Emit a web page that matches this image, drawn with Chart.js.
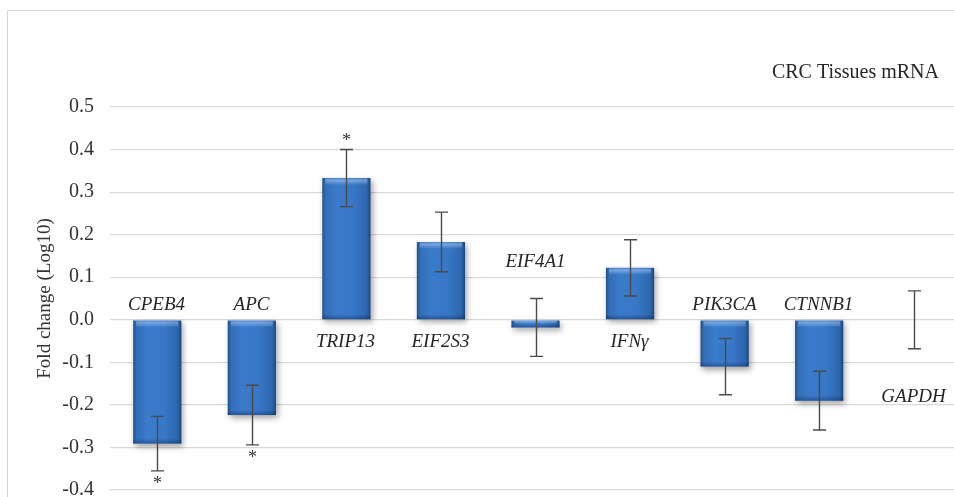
<!DOCTYPE html>
<html>
<head>
<meta charset="utf-8">
<script src="https://cdn.jsdelivr.net/npm/chart.js@4/dist/chart.umd.min.js"></script>
<style>
  html, body { margin: 0; padding: 0; background: #fff; overflow: hidden; width: 954px; height: 497px; }
  #wrap { position: relative; width: 954px; height: 497px; overflow: hidden; }
  #frame { position: absolute; left: 7px; top: 10px; width: 990px; height: 520px; border: 1px solid #d4d4d4; box-sizing: border-box; pointer-events: none; }
  canvas { position: absolute; left: 0; top: 0; }
</style>
</head>
<body>
<div id="wrap">
  <div id="frame"></div>
  <canvas id="chart" width="966" height="497"></canvas>
</div>
<script>
// Genes measured in CRC tissue (qPCR), log10 fold change with error bars
const categories = ['CPEB4', 'APC', 'TRIP13', 'EIF2S3', 'EIF4A1', 'IFNγ', 'PIK3CA', 'CTNNB1', 'GAPDH'];
const foldChange = [-0.291, -0.224, 0.333, 0.183, -0.018, 0.122, -0.110, -0.190, 0.0];
const errorSize  = [0.064, 0.070, 0.067, 0.070, 0.068, 0.066, 0.066, 0.069, 0.068];
const significance = ['*', '*', '*', '', '', '', '', '', ''];
const yTicks = [-0.4, -0.3, -0.2, -0.1, 0.0, 0.1, 0.2, 0.3, 0.4, 0.5];
const chartTitle = 'CRC Tissues mRNA';
const yAxisTitle = 'Fold change (Log10)';

const BAR_FRACTION = 0.51;
const SERIF = '"Liberation Serif", "Times New Roman", serif';

// Horizontal shading that gives each bar its rounded, bevelled look
function barFill(ctx) {
  const chart = ctx.chart;
  const xs = chart.scales.x;
  if (!xs || ctx.type !== 'data' || !isFinite(xs.width) || xs.width <= 0) return '#3a76c0';
  const cx = xs.getPixelForValue(ctx.dataIndex);
  const w = (xs.width / categories.length) * BAR_FRACTION;
  const g = chart.ctx.createLinearGradient(cx - w / 2, 0, cx + w / 2, 0);
  g.addColorStop(0.00, '#22508a');
  g.addColorStop(0.07, '#326eb8');
  g.addColorStop(0.30, '#3b7bcb');
  g.addColorStop(0.65, '#3877c6');
  g.addColorStop(0.92, '#2c66ae');
  g.addColorStop(1.00, '#1d487f');
  return g;
}

// Soft drop shadow under the bars plus a light top / dark bottom edge
const barEffects = {
  id: 'barEffects',
  beforeDatasetDraw(chart) {
    const c = chart.ctx;
    c.save();
    c.shadowColor = 'rgba(0,0,0,0.35)';
    c.shadowBlur = 6;
    c.shadowOffsetX = 2;
    c.shadowOffsetY = 3;
  },
  afterDatasetDraw(chart) {
    const c = chart.ctx;
    c.restore();
    const meta = chart.getDatasetMeta(0);
    meta.data.forEach((bar) => {
      const p = bar.getProps(['x', 'y', 'base', 'width'], true);
      const top = Math.min(p.y, p.base);
      const bottom = Math.max(p.y, p.base);
      const h = bottom - top;
      if (h < 1) return;
      const left = p.x - p.width / 2;
      const band = Math.min(7, h / 2);
      c.save();
      let g = c.createLinearGradient(0, top, 0, top + band);
      g.addColorStop(0, 'rgba(255,255,255,0.05)');
      g.addColorStop(0.35, 'rgba(190,220,255,0.45)');
      g.addColorStop(1, 'rgba(190,220,255,0)');
      c.fillStyle = g;
      c.fillRect(left + 3, top, p.width - 6, band);
      const band2 = Math.min(5, h / 2);
      g = c.createLinearGradient(0, bottom - band2, 0, bottom);
      g.addColorStop(0, 'rgba(0,20,60,0)');
      g.addColorStop(1, 'rgba(0,20,60,0.35)');
      c.fillStyle = g;
      c.fillRect(left, bottom - band2, p.width, band2);
      c.restore();
    });
  }
};

// Error bars, significance marks, gene labels and the chart caption
const annotations = {
  id: 'annotations',
  afterDatasetsDraw(chart, args, opts) {
    const c = chart.ctx;
    const xs = chart.scales.x;
    const ys = chart.scales.y;
    c.save();
    c.strokeStyle = '#4a4a4a';
    c.lineWidth = 1.4;
    categories.forEach((name, i) => {
      const x = Math.round(xs.getPixelForValue(i)) + 0.5;
      const v = foldChange[i];
      const e = errorSize[i];
      const yHi = ys.getPixelForValue(v + e);
      const yLo = ys.getPixelForValue(v - e);
      c.beginPath();
      c.moveTo(x, yHi); c.lineTo(x, yLo);
      c.moveTo(x - 6.5, yHi); c.lineTo(x + 6.5, yHi);
      c.moveTo(x - 6.5, yLo); c.lineTo(x + 6.5, yLo);
      c.stroke();

      c.fillStyle = '#333';
      if (significance[i]) {
        c.font = '18px ' + SERIF;
        c.textAlign = 'center';
        c.textBaseline = 'middle';
        const sy = v >= 0 ? yHi - 8 : yLo + 13;
        c.fillText(significance[i], x, sy);
      }

      // gene name: above the zero line for down-regulated bars, below it for up-regulated ones
      const zero = ys.getPixelForValue(0);
      let ly = v < 0 ? zero - 15 : zero + 22;
      if (opts.labelAt[name] !== undefined) ly = ys.getPixelForValue(opts.labelAt[name]);
      c.font = 'italic 19px ' + SERIF;
      c.fillStyle = '#262626';
      c.textAlign = 'center';
      c.textBaseline = 'middle';
      c.fillText(name, x - 1, ly);
    });

    c.font = '20px ' + SERIF;
    c.fillStyle = '#262626';
    c.textAlign = 'right';
    c.textBaseline = 'middle';
    c.fillText(chartTitle, opts.titleRight, opts.titleY);
    c.restore();
  }
};

new Chart(document.getElementById('chart'), {
  type: 'bar',
  data: {
    labels: categories,
    datasets: [{
      data: foldChange,
      backgroundColor: barFill,
      borderWidth: 0,
      barPercentage: BAR_FRACTION,
      categoryPercentage: 1.0
    }]
  },
  options: {
    responsive: false,
    animation: false,
    devicePixelRatio: 1,
    layout: { padding: { left: 0, right: 5, top: 107, bottom: 7 } },
    plugins: {
      legend: { display: false },
      tooltip: { enabled: false },
      annotations: {
        labelAt: { 'EIF4A1': 0.136, 'GAPDH': -0.181 },
        titleRight: 939,
        titleY: 73
      }
    },
    scales: {
      x: { display: false },
      y: {
        min: -0.4,
        max: 0.5,
        afterFit(scale) {
          // fixed axis width; the end labels need no extra room above or below the plot
          scale.width = 110;
          scale.paddingTop = 0;
          scale.paddingBottom = 0;
        },
        afterBuildTicks(scale) { scale.ticks = yTicks.map(v => ({ value: v })); },
        border: { display: false },
        grid: { color: '#d9d9d9', lineWidth: 1.2, drawTicks: false },
        ticks: {
          padding: 16,
          color: '#333',
          font: { family: SERIF, size: 20 },
          callback: (v) => (Math.abs(v) < 1e-9 ? 0 : v).toFixed(1)
        },
        title: {
          display: true,
          text: yAxisTitle,
          color: '#333',
          font: { family: SERIF, size: 19 },
          padding: { top: 34, bottom: 0 }
        }
      }
    }
  },
  plugins: [barEffects, annotations]
});
</script>
</body>
</html>
